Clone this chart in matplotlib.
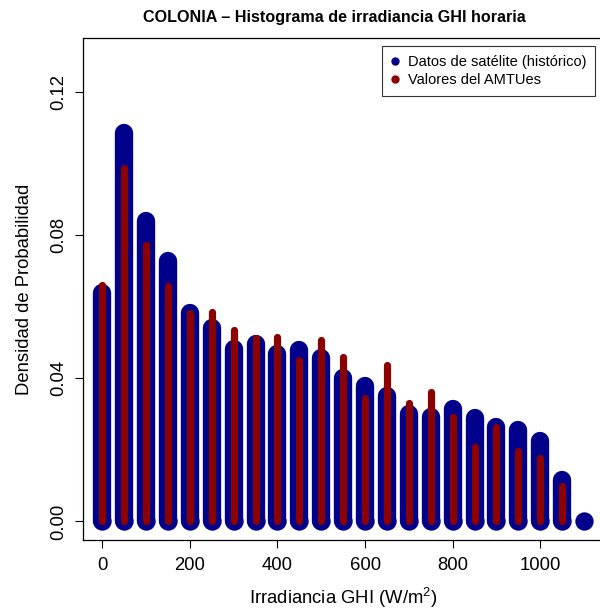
import matplotlib
matplotlib.use("Agg")
import matplotlib.pyplot as plt
from matplotlib.lines import Line2D

# bin centres (W/m2) and densities
ghi_sat = [0, 50, 100, 150, 200, 250, 300, 350, 400, 450, 500, 550,
           600, 650, 700, 750, 800, 850, 900, 950, 1000, 1050, 1100]
dens_sat = [0.0638, 0.1085, 0.0840, 0.0728, 0.0582, 0.0542, 0.0483, 0.0497,
            0.0469, 0.0480, 0.0458, 0.0402, 0.0379, 0.0351, 0.0301, 0.0292,
            0.0315, 0.0289, 0.0264, 0.0256, 0.0225, 0.0115, 0.0]

ghi_amtu = [0, 50, 100, 150, 200, 250, 300, 350, 400, 450, 500,
            550, 600, 650, 700, 750, 800, 850, 900, 950, 1000, 1050]
dens_amtu = [0.0662, 0.0988, 0.0772, 0.0659, 0.0583, 0.0586, 0.0535, 0.0513,
             0.0516, 0.0451, 0.0507, 0.0460, 0.0344, 0.0437, 0.0330, 0.0361,
             0.0291, 0.0207, 0.0263, 0.0198, 0.0176, 0.0100]

x_ticks = [0, 200, 400, 600, 800, 1000]
y_ticks = [0.00, 0.04, 0.08, 0.12]
y_tick_labels = ["0.00", "0.04", "0.08", "0.12"]

BLUE = "#00008B"
RED = "#8B0000"
LW_SAT = 13.2
LW_AMTU = 5.2

plt.rcParams["font.family"] = ["Liberation Sans", "DejaVu Sans"]
plt.rcParams["mathtext.fontset"] = "custom"
plt.rcParams["mathtext.rm"] = "Liberation Sans"

fig = plt.figure(figsize=(6.0, 6.11), dpi=100)
# axes box runs slightly past the right edge, as in the reference
ax = fig.add_axes([0.1383, 0.1162, 0.8673, 0.8216])

# type="h" style lines with round ends; the base dot also covers zero-height bins
lc1 = ax.vlines(ghi_sat, 0, dens_sat, colors=BLUE, linewidth=LW_SAT)
lc1.set_capstyle("round")
ax.plot(ghi_sat, [0] * len(ghi_sat), "o", ms=LW_SAT, color=BLUE, mew=0)
lc2 = ax.vlines(ghi_amtu, 0, dens_amtu, colors=RED, linewidth=LW_AMTU)
lc2.set_capstyle("round")

ax.set_xlim(-44, 1144)
ax.set_ylim(-0.0052, 0.1352)

ax.set_xticks(x_ticks)
ax.set_yticks(y_ticks)
ax.set_yticklabels(y_tick_labels, rotation=90, va="center")
ax.tick_params(axis="both", labelsize=13.3, length=6, width=0.8, direction="out")
ax.tick_params(axis="x", pad=6)
ax.tick_params(axis="y", pad=5)

for s in ax.spines.values():
    s.set_linewidth(0.9)

ax.set_xlabel(r"Irradiancia GHI (W/m$^{2}$)", fontsize=13.3, labelpad=9)
ax.set_ylabel("Densidad de Probabilidad", fontsize=13.3, labelpad=13)
fig.text(0.5567, 0.972, "COLONIA – Histograma de irradiancia GHI horaria",
         ha="center", va="center", fontsize=11.6, fontweight="bold")

handles = [
    Line2D([], [], linestyle="none", marker="o", markersize=5, color=BLUE),
    Line2D([], [], linestyle="none", marker="o", markersize=5, color=RED),
]
leg = ax.legend(handles, ["Datos de satélite (histórico)", "Valores del AMTUes"],
                loc="upper right", bbox_to_anchor=(0.984, 0.984),
                borderaxespad=0, fontsize=10.5, frameon=True, fancybox=False,
                handlelength=0.6, handletextpad=0.6, labelspacing=0.3,
                borderpad=0.6)
leg.get_frame().set_edgecolor("black")
leg.get_frame().set_linewidth(0.8)

fig.savefig("out.png", dpi=100)
